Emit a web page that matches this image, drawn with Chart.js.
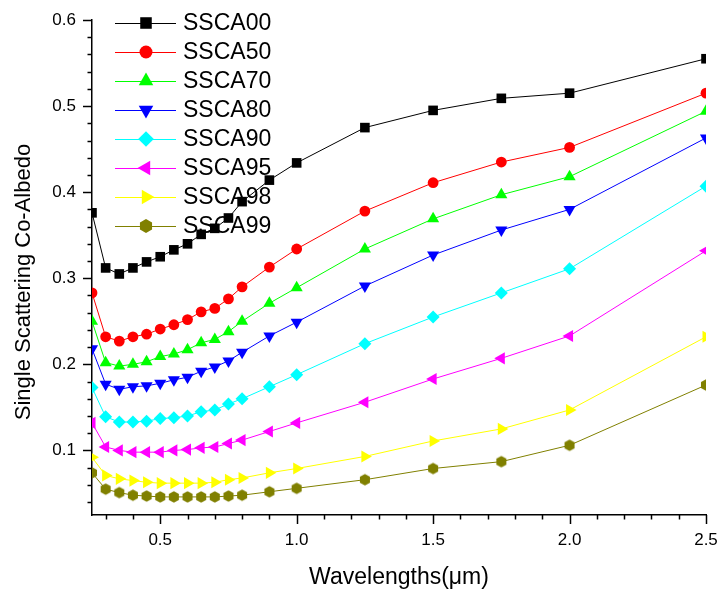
<!DOCTYPE html>
<html><head><meta charset="utf-8">
<script src="https://cdn.jsdelivr.net/npm/chart.js@4/dist/chart.umd.min.js"></script>
<style>html,body{margin:0;padding:0;background:#fff}#wrap{width:720px;height:592px}</style>
</head><body><div id="wrap"><canvas id="c" width="720" height="592"></canvas></div>
<script>
// ---- data ----
const wavelengths = [0.25,0.3,0.35,0.4,0.45,0.5,0.55,0.6,0.65,0.7,0.75,0.8,0.9,1.0,1.25,1.5,1.75,2.0,2.5];
const seriesNames = ['SSCA00','SSCA50','SSCA70','SSCA80','SSCA90','SSCA95','SSCA98','SSCA99'];
const ssca00 = [0.376,0.312,0.305,0.312,0.319,0.325,0.333,0.340,0.351,0.358,0.370,0.389,0.414,0.434,0.475,0.495,0.509,0.515,0.555];
const ssca50 = [0.283,0.232,0.227,0.232,0.235,0.241,0.246,0.252,0.261,0.265,0.276,0.290,0.313,0.334,0.378,0.411,0.435,0.452,0.515];
const ssca70 = [0.250,0.202,0.198,0.200,0.203,0.209,0.212,0.217,0.225,0.229,0.238,0.250,0.271,0.289,0.334,0.369,0.397,0.418,0.494];
const ssca80 = [0.218,0.177,0.171,0.174,0.175,0.178,0.182,0.185,0.192,0.197,0.204,0.214,0.233,0.249,0.291,0.327,0.356,0.380,0.463];
const ssca90 = [0.173,0.139,0.133,0.133,0.134,0.137,0.138,0.140,0.145,0.147,0.154,0.160,0.174,0.188,0.224,0.255,0.283,0.311,0.407];
const ssca95 = [0.132,0.104,0.100,0.098,0.098,0.098,0.100,0.101,0.103,0.104,0.108,0.112,0.122,0.132,0.156,0.183,0.207,0.233,0.332];
const ssca98 = [0.092,0.071,0.067,0.065,0.063,0.062,0.062,0.062,0.062,0.063,0.066,0.068,0.074,0.079,0.093,0.111,0.125,0.147,0.232];
const ssca99 = [0.074,0.055,0.051,0.048,0.047,0.046,0.046,0.046,0.046,0.046,0.047,0.048,0.052,0.056,0.066,0.079,0.087,0.106,0.176];
const xTickValues = [0.5,1.0,1.5,2.0,2.5];
const yTickValues = [0.1,0.2,0.3,0.4,0.5,0.6];
const xTitle = 'Wavelengths(\u03bcm)';
const yTitle = 'Single Scattering Co-Albedo';

// ---- styles ----
const FONT = "'Liberation Sans', Arial, Helvetica, sans-serif";
const colors = ['#000000','#ff0000','#00ff00','#0000ff','#00ffff','#ff00ff','#ffff00','#808000'];
const allValues = [ssca00,ssca50,ssca70,ssca80,ssca90,ssca95,ssca98,ssca99];

function hexCanvas(r, color){
  const c = document.createElement('canvas');
  const s = Math.ceil(r*2)+2; c.width = s; c.height = s;
  const g = c.getContext('2d'); g.fillStyle = color; g.beginPath();
  for (let k=0;k<6;k++){ const a = -Math.PI/2 + k*Math.PI/3; const px = s/2 + r*Math.cos(a), py = s/2 + r*Math.sin(a); k?g.lineTo(px,py):g.moveTo(px,py); }
  g.closePath(); g.fill(); return c;
}
const markers = [
  {style:'rect', rot:0, r:6.8},
  {style:'circle', rot:0, r:5.4},
  {style:'triangle', rot:0, r:7},
  {style:'triangle', rot:180, r:7},
  {style:'rectRot', rot:0, r:6.5},
  {style:'triangle', rot:-90, r:7},
  {style:'triangle', rot:90, r:7},
  {style:hexCanvas(5.8,'#808000'), rot:0, r:6}
];
const legendHex = hexCanvas(7,'#808000');

const datasets = allValues.map((vals,i)=>({
  label: seriesNames[i],
  data: wavelengths.map((x,j)=>({x:x, y:vals[j]})),
  borderColor: colors[i], backgroundColor: colors[i],
  pointBackgroundColor: colors[i], pointBorderColor: colors[i],
  borderWidth: 1, pointBorderWidth: 0,
  pointStyle: markers[i].style, pointRotation: markers[i].rot,
  pointRadius: markers[i].r, pointHoverRadius: markers[i].r,
  tension: 0, clip: 0, order: 8-i
}));

function drawShape(ctx, i, x, y, scale){
  const m = markers[i];
  if (i===7){ ctx.drawImage(legendHex, x-legendHex.width/2, y-legendHex.height/2); return; }
  const r = m.r*scale;
  ctx.save(); ctx.fillStyle = colors[i]; ctx.beginPath();
  if (m.style==='rect'){ const s=r*Math.SQRT1_2; ctx.rect(x-s,y-s,2*s,2*s); }
  else if (m.style==='circle'){ ctx.arc(x,y,r,0,Math.PI*2); }
  else if (m.style==='rectRot'){ ctx.moveTo(x,y-r); ctx.lineTo(x+r,y); ctx.lineTo(x,y+r); ctx.lineTo(x-r,y); ctx.closePath(); }
  else { let a = m.rot*Math.PI/180; for(let k=0;k<3;k++){ const px=x+Math.sin(a)*r, py=y-Math.cos(a)*r; k?ctx.lineTo(px,py):ctx.moveTo(px,py); a+=2*Math.PI/3; } ctx.closePath(); }
  ctx.fill(); ctx.restore();
}

const decor = {
  id:'decor',
  afterDraw(chart){
    const ctx = chart.ctx, xs = chart.scales.x, ys = chart.scales.y, area = chart.chartArea;
    ctx.save();
    ctx.strokeStyle = '#000'; ctx.lineWidth = 1.5;
    // x ticks
    for (let k=3;k<=25;k++){
      const v = k/10; const major = (k%5===0);
      const px = Math.round(xs.getPixelForValue(v))+0.5;
      ctx.beginPath(); ctx.moveTo(px, area.bottom); ctx.lineTo(px, area.bottom + (major?9:4.5)); ctx.stroke();
    }
    // y ticks
    for (let k=2;k<=30;k++){
      const v = k/50; const major = (k%5===0);
      const py = Math.round(ys.getPixelForValue(v))+0.5;
      ctx.beginPath(); ctx.moveTo(area.left, py); ctx.lineTo(area.left - (major?9:4.5), py); ctx.stroke();
    }
    // titles
    ctx.fillStyle = '#000'; ctx.textAlign='center'; ctx.textBaseline='middle';
    ctx.font = '23px ' + FONT;
    ctx.fillText(xTitle, 399, 578);
    ctx.save(); ctx.translate(24, 282); ctx.rotate(-Math.PI/2);
    ctx.font = '22px ' + FONT; ctx.fillText(yTitle, 0, 0); ctx.restore();
    // legend
    ctx.textAlign='left'; ctx.font = '23px ' + FONT;
    for (let i=0;i<seriesNames.length;i++){
      const y = 23 + i*29;
      ctx.strokeStyle = colors[i]; ctx.lineWidth = 1;
      ctx.beginPath(); ctx.moveTo(115, y+0.5); ctx.lineTo(176, y+0.5); ctx.stroke();
      drawShape(ctx, i, 146, y, 1.2);
      ctx.fillStyle = '#000'; ctx.fillText(seriesNames[i], 183, y+1);
    }
    ctx.restore();
  }
};

const axisCommon = {
  type:'linear',
  grid:{display:true, drawOnChartArea:false, drawTicks:true, tickLength:9, color:'rgba(0,0,0,0)'},
  border:{display:true, color:'#000', width:1.5},
  title:{display:false}
};

new Chart(document.getElementById('c').getContext('2d'), {
  type:'line',
  data:{datasets},
  options:{
    responsive:false, animation:false, devicePixelRatio:1,
    layout:{padding:{top:20,right:14,left:0,bottom:0}},
    plugins:{legend:{display:false}, tooltip:{enabled:false}},
    scales:{
      x:Object.assign({}, axisCommon, {
        position:'bottom', min:0.25, max:2.5,
        afterBuildTicks:s=>{ s.ticks = xTickValues.map(v=>({value:v})); },
        afterFit:s=>{ s.height = 77; s.paddingLeft = 0; s.paddingRight = 0; },
        ticks:{color:'#000', font:{family:FONT, size:17}, padding:6, maxRotation:0, autoSkip:false, callback:v=>Number(v).toFixed(1)}
      }),
      y:Object.assign({}, axisCommon, {
        position:'left', min:0.025, max:0.6,
        afterBuildTicks:s=>{ s.ticks = yTickValues.map(v=>({value:v})); },
        afterFit:s=>{ s.width = 92; s.paddingTop = 0; s.paddingBottom = 0; },
        ticks:{color:'#000', font:{family:FONT, size:17}, padding:7, autoSkip:false, callback:v=>Number(v).toFixed(1)}
      })
    }
  },
  plugins:[decor]
});
</script></body></html>
